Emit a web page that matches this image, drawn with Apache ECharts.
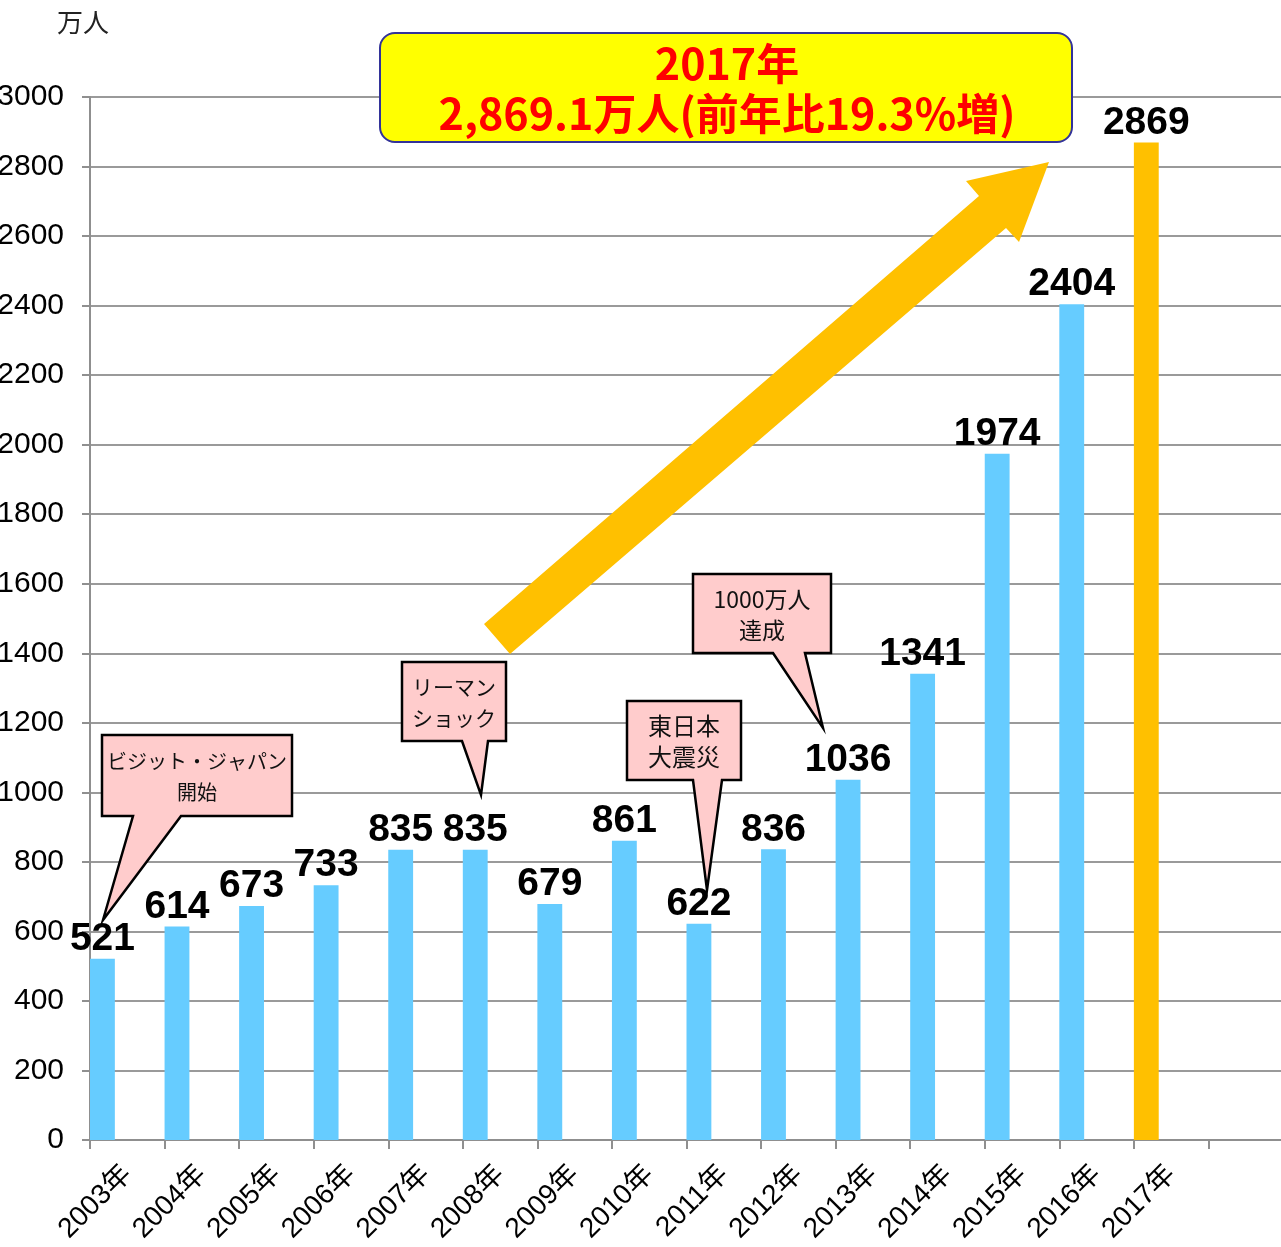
<!DOCTYPE html>
<html>
<head>
<meta charset="utf-8">
<script src="https://cdn.jsdelivr.net/npm/echarts@6/dist/echarts.min.js"></script>
<style>
  html, body { margin: 0; padding: 0; background: #fff; }
  #chart { width: 1281px; height: 1247px; }
</style>
</head>
<body>
<div id="chart"></div>
<script>
// 訪日外客数（万人）
const years = ['2003年', '2004年', '2005年', '2006年', '2007年', '2008年', '2009年', '2010年',
  '2011年', '2012年', '2013年', '2014年', '2015年', '2016年', '2017年', ''];
const visitors = [521, 614, 673, 733, 835, 835, 679, 861, 622, 836, 1036, 1341, 1974, 2404, 2869, null];
const highlightYear = '2017年';
const yTicks = { min: 0, max: 3000, step: 200 };

const titleLines = ['2017年', '2,869.1万人(前年比19.3%増)'];
const notes = [
  { text: 'ビジット・ジャパン\n開始', box: [102, 735, 292, 816], base: [133, 181], tip: [103, 920], size: 20 },
  { text: 'リーマン\nショック', box: [402, 662, 506, 741], base: [462, 488], tip: [481, 795], size: 21 },
  { text: '東日本\n大震災', box: [627, 701, 741, 780], base: [693, 722], tip: [707, 890], size: 24 },
  { text: '1000万人\n達成', box: [693, 574, 831, 653], base: [773, 805], tip: [823, 728], size: 23 }
];

const BLUE = '#66CCFF';
const ORANGE = '#FFC000';
const GRAY = '#8f8f8f';

const chart = echarts.init(document.getElementById('chart'));

const barData = visitors.map((v, i) => ({
  value: v,
  itemStyle: { color: years[i] === highlightYear ? ORANGE : BLUE }
}));

// 吹き出し
const noteGraphics = [];
notes.forEach(n => {
  const [x1, y1, x2, y2] = n.box;
  noteGraphics.push({
    type: 'polygon',
    shape: { points: [[x1, y1], [x2, y1], [x2, y2], [n.base[1], y2], n.tip, [n.base[0], y2], [x1, y2]] },
    style: { fill: '#FFCCCC', stroke: '#000', lineWidth: 2.5, lineJoin: 'miter' },
    z: 10
  });
  noteGraphics.push({
    type: 'text',
    x: (x1 + x2) / 2,
    y: (y1 + y2) / 2 + 1,
    style: {
      text: n.text,
      align: 'center',
      verticalAlign: 'middle',
      fontSize: n.size,
      lineHeight: 31,
      fontFamily: '"Noto Sans CJK JP", sans-serif',
      fill: '#111'
    },
    z: 11
  });
});

const option = {
  animation: false,
  backgroundColor: '#fff',
  title: {
    text: '万人',
    left: 52,
    top: 4,
    textStyle: { fontSize: 26, fontWeight: 'normal', color: '#222', fontFamily: '"Noto Sans CJK JP", sans-serif' }
  },
  grid: { left: 90, right: -2, top: 97, bottom: 107, containLabel: false, outerBoundsMode: 'none' },
  xAxis: {
    type: 'category',
    data: years,
    boundaryGap: true,
    axisLine: { lineStyle: { color: GRAY, width: 2 } },
    axisTick: { show: true, length: 9, lineStyle: { color: GRAY, width: 2 } },
    axisLabel: {
      rotate: 45,
      margin: 30,
      interval: 0,
      color: '#000',
      fontSize: 28,
      fontFamily: '"Liberation Sans", "Noto Sans CJK JP", sans-serif'
    }
  },
  yAxis: {
    type: 'value',
    min: yTicks.min,
    max: yTicks.max,
    interval: yTicks.step,
    axisLine: { show: true, lineStyle: { color: GRAY, width: 2 } },
    axisTick: { show: true, length: 8, lineStyle: { color: GRAY, width: 2 } },
    splitLine: { show: true, lineStyle: { color: '#9a9a9a', width: 2 } },
    axisLabel: {
      margin: 26,
      color: '#000',
      fontSize: 30,
      fontFamily: '"Liberation Sans", Arial, sans-serif',
      formatter: v => String(v)
    }
  },
  series: [{
    name: '訪日外客数',
    type: 'bar',
    data: barData,
    barGap: '0%',
    barCategoryGap: '0%',
    label: {
      show: true,
      position: 'top',
      distance: 0,
      color: '#000',
      fontSize: 39,
      fontWeight: 'bold',
      fontFamily: '"Liberation Sans", Arial, sans-serif'
    },
    z: 2
  }, {
    // 空き系列（棒を左寄せにするため）
    name: 'spacer1',
    type: 'bar',
    data: visitors.map(() => null),
    barGap: '0%',
    barCategoryGap: '0%'
  }, {
    name: 'spacer2',
    type: 'bar',
    data: visitors.map(() => null),
    barGap: '0%',
    barCategoryGap: '0%'
  }],
  graphic: [
    {
      type: 'polygon',
      shape: { points: [[484, 624], [979, 196], [966, 181], [1049, 162], [1019, 242], [1006, 228], [510, 654]] },
      style: { fill: ORANGE },
      z: 5
    },
    {
      type: 'rect',
      shape: { x: 380, y: 33, width: 692, height: 109, r: 15 },
      style: { fill: '#FFFF00', stroke: '#333399', lineWidth: 2 },
      z: 10
    },
    {
      type: 'text',
      x: 727,
      y: 89,
      style: {
        text: titleLines.join('\n'),
        align: 'center',
        verticalAlign: 'middle',
        fontSize: 43,
        lineHeight: 50,
        fontWeight: 'bold',
        fill: '#FF0000',
        fontFamily: '"Noto Sans CJK JP", sans-serif'
      },
      z: 11
    }
  ].concat(noteGraphics)
};

chart.setOption(option);
</script>
</body>
</html>
